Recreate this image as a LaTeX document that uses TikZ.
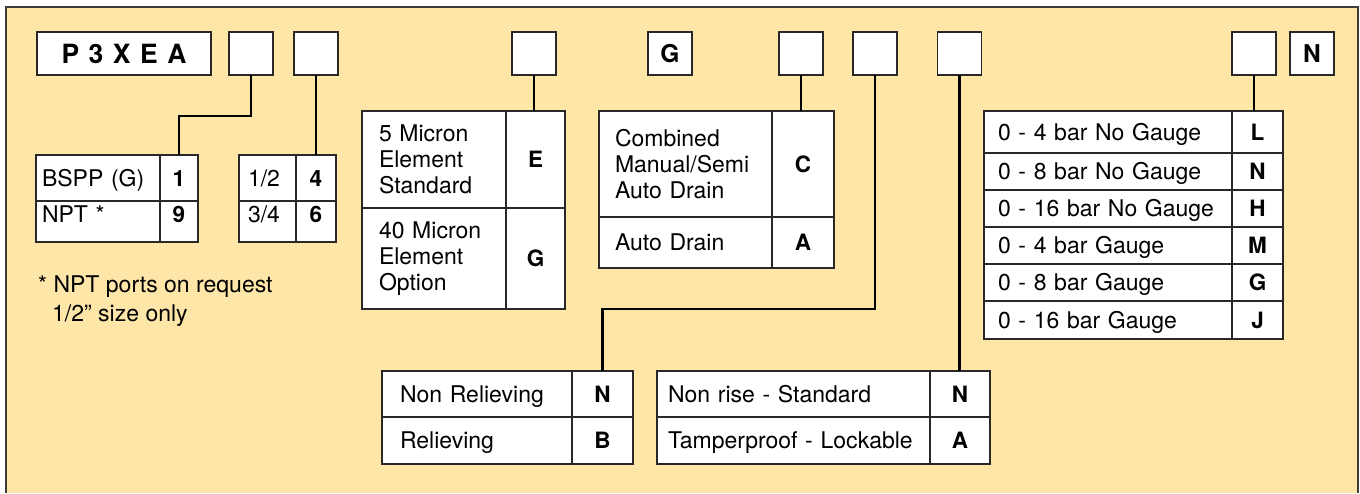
\documentclass[tikz,border=0pt]{standalone}
\usepackage{fontspec}
\setmainfont{TeX Gyre Heros}
\definecolor{panel}{RGB}{254,229,168}
\definecolor{tabline}{RGB}{40,40,40}
\definecolor{paneledge}{RGB}{60,60,60}
\begin{document}
\begin{tikzpicture}[x=1pt,y=-1pt,
  cell/.style={draw=tabline, line width=1.3pt, fill=white, anchor=north west, inner sep=0pt, outer sep=0pt},
  lab/.style={cell, align=left, font=\fontsize{23}{26}\selectfont},
  one/.style={text height=16.5pt, text depth=0pt},
  code/.style={cell, align=center, font=\fontsize{22.5}{24}\selectfont\bfseries, text height=16pt, text depth=0pt},
  tbox/.style={draw=tabline, line width=1.3pt, fill=white, minimum width=44pt, minimum height=43pt, inner sep=0pt, outer sep=0pt},
  tletter/.style={font=\fontsize{24.5}{26}\selectfont\bfseries, text height=17.5pt, text depth=0pt},
  conn/.style={draw=black, line width=2.2pt},
  note/.style={anchor=base west, inner sep=0pt, font=\fontsize{23}{26}\selectfont}]
\useasboundingbox (0,0) rectangle (1360,493);
\fill[panel] (6,7) rectangle (1358,493);
\draw[paneledge, line width=1.5pt] (6,493) -- (6,7) -- (1358,7) -- (1358,493);

% top code boxes
\node[tbox, minimum width=174pt, font=\fontsize{26.5}{28}\selectfont\bfseries, text height=19pt, text depth=0pt] (title) at (124,53.5)
  {P\hspace{9.5pt}3\hspace{9.5pt}X\hspace{9.5pt}E\hspace{9.5pt}A};
\node[tbox] (b1) at (251,53.5) {};
\node[tbox] (b2) at (316,53.5) {};
\node[tbox] (b3) at (534,53.5) {};
\node[tbox, tletter] (bG) at (670,53.5) {G};
\node[tbox] (b4) at (801,53.5) {};
\node[tbox] (b5) at (875,53.5) {};
\node[tbox] (b6) at (959.5,53.5) {};
\node[tbox] (b7) at (1254,53.5) {};
\node[tbox, tletter] (bN) at (1312,53.5) {N};

% port table
\node[lab, one, text width=112pt, inner xsep=6pt, minimum height=46pt] (p1l) at (36,155) {BSPP (G)};
\node[code, minimum width=38pt, minimum height=46pt] (p1c) at (160,155) {1};
\node[lab, one, text width=112pt, inner xsep=6pt, minimum height=41pt] (p2l) at (36,201) {\raisebox{7pt}{NPT *}};
\node[code, minimum width=38pt, minimum height=41pt] (p2c) at (160,201) {\raisebox{7pt}{9}};

% size table
\node[lab, one, text width=39pt, inner xsep=9pt, minimum height=46pt] (s1l) at (239,155) {1/2};
\node[code, minimum width=40pt, minimum height=46pt] (s1c) at (296,155) {4};
\node[lab, one, text width=39pt, inner xsep=9pt, minimum height=41pt] (s2l) at (239,201) {\raisebox{7pt}{3/4}};
\node[code, minimum width=40pt, minimum height=41pt] (s2c) at (296,201) {\raisebox{7pt}{6}};

% footnote
\node[note] (foot1) at (38,292) {* NPT ports on request};
\node[note] (foot2) at (52,321) {1/2” size only};

% element table
\node[lab, text width=110pt, inner xsep=17pt, minimum height=97pt] (e1l) at (362,111) {5 Micron\\Element\\Standard};
\node[code, minimum width=59pt, minimum height=97pt] (e1c) at (506,111) {E};
\node[lab, text width=110pt, inner xsep=17pt, minimum height=101pt] (e2l) at (362,208) {40 Micron\\Element\\Option};
\node[code, minimum width=59pt, minimum height=101pt] (e2c) at (506,208) {G};

% drain table
\node[lab, text width=141pt, inner xsep=16pt, minimum height=106pt] (d1l) at (599,111) {Combined\\Manual/Semi\\Auto Drain};
\node[code, minimum width=62pt, minimum height=106pt] (d1c) at (772,111) {C};
\node[lab, one, text width=141pt, inner xsep=16pt, minimum height=51pt] (d2l) at (599,217) {Auto Drain};
\node[code, minimum width=62pt, minimum height=51pt] (d2c) at (772,217) {A};

% relieving table
\node[lab, one, text width=154pt, inner xsep=18pt, minimum height=46pt] (r1l) at (382,371) {Non Relieving};
\node[code, minimum width=61pt, minimum height=46pt] (r1c) at (572,371) {N};
\node[lab, one, text width=154pt, inner xsep=18pt, minimum height=47pt] (r2l) at (382,417) {Relieving};
\node[code, minimum width=61pt, minimum height=47pt] (r2c) at (572,417) {B};

% adjustment table
\node[lab, one, text width=251pt, inner xsep=11pt, minimum height=46pt] (a1l) at (657,371) {Non rise - Standard};
\node[code, minimum width=60pt, minimum height=46pt] (a1c) at (930,371) {N};
\node[lab, one, text width=251pt, inner xsep=11pt, minimum height=47pt] (a2l) at (657,417) {Tamperproof - Lockable};
\node[code, minimum width=60pt, minimum height=47pt] (a2c) at (930,417) {A};

% gauge table
\node[lab, one, text width=220pt, inner xsep=14pt, minimum height=42pt] (g1l) at (984,111) {0 - 4 bar No Gauge};
\node[code, minimum width=51pt, minimum height=42pt] (g1c) at (1232,111) {L};
\node[lab, one, text width=220pt, inner xsep=14pt, minimum height=37pt] (g2l) at (984,153) {0 - 8 bar No Gauge};
\node[code, minimum width=51pt, minimum height=37pt] (g2c) at (1232,153) {N};
\node[lab, one, text width=220pt, inner xsep=14pt, minimum height=37pt] (g3l) at (984,190) {\mbox{0 - 16 bar No Gauge}};
\node[code, minimum width=51pt, minimum height=37pt] (g3c) at (1232,190) {H};
\node[lab, one, text width=220pt, inner xsep=14pt, minimum height=37pt] (g4l) at (984,227) {0 - 4 bar Gauge};
\node[code, minimum width=51pt, minimum height=37pt] (g4c) at (1232,227) {M};
\node[lab, one, text width=220pt, inner xsep=14pt, minimum height=37pt] (g5l) at (984,264) {0 - 8 bar Gauge};
\node[code, minimum width=51pt, minimum height=37pt] (g5c) at (1232,264) {G};
\node[lab, one, text width=220pt, inner xsep=14pt, minimum height=38pt] (g6l) at (984,301) {0 - 16 bar Gauge};
\node[code, minimum width=51pt, minimum height=38pt] (g6c) at (1232,301) {J};

% connectors
\draw[conn] (b1.south) -- ++(0,41) -| (p1c.north);
\draw[conn] (b2.south) -- (b2.south |- s1c.north);
\draw[conn] (b3.south) -- (b3.south |- e1c.north);
\draw[conn] (b4.south) -- (b4.south |- d1c.north);
\draw[conn] (b5.south) -- ++(0,234) -| (r1c.north);
\draw[conn] (b6.south) -- (b6.south |- a1c.north);
\draw[conn] (b7.south) -- (b7.south |- g1c.north);
\end{tikzpicture}
\end{document}
